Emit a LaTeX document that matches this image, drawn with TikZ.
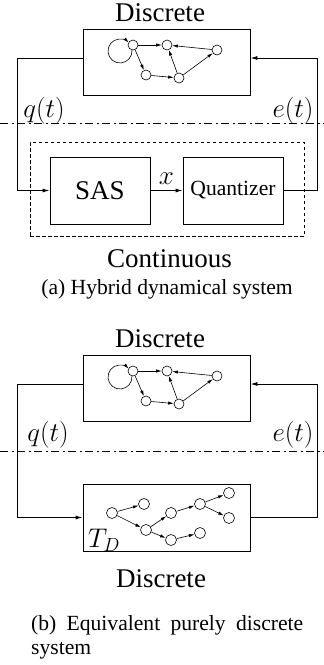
\RequirePackage{fix-cm}
\documentclass[tikz,border=0pt]{standalone}
\usepackage[no-math]{fontspec}
\setmainfont{Liberation Serif}
\usetikzlibrary{arrows.meta}
\newcommand\topgraph[1]{%
  \node[st] (#1n1) at (133,45) {};
  \node[st] (#1n2) at (167,45) {};
  \node[st] (#1n4) at (217,50) {};
  \node[st] (#1n3) at (146,75) {};
  \node[st] (#1n5) at (179,78) {};
  \coordinate (#1L) at (120,51);
  \draw[garr] (#1L) ++(5:12pt) arc[start angle=5,end angle=-316,radius=12pt];
  \draw[garr] (#1n1) -- (#1n2);
  \draw[garr] (#1n4) -- (#1n2);
  \draw[garr] (#1n1) -- (#1n3);
  \draw[garr] (#1n3) -- (#1n5);
  \draw[garr] (#1n5) -- (#1n2);
  \draw[garr] (#1n5) -- (#1n4);
}
\begin{document}
\begin{tikzpicture}[x=1pt,y=-1pt,
  box/.style={draw, line width=0.9pt, inner sep=0pt},
  st/.style={circle, draw, line width=0.6pt, minimum size=10pt, inner sep=0pt, fill=white},
  flow/.style={line width=0.9pt, -{Latex[length=7pt,width=4pt]}},
  link/.style={line width=0.9pt},
  garr/.style={line width=0.6pt, -{Latex[length=5.5pt,width=3.3pt]}},
  big/.style={font=\fontsize{27}{32}\selectfont, inner sep=0pt},
  small/.style={font=\fontsize{21.6}{24.5}\selectfont, inner sep=0pt},
  dashdot/.style={line width=0.7pt, dash pattern=on 8pt off 3.5pt on 2pt off 3.5pt},
  contbox/.style={draw, line width=0.8pt, dash pattern=on 3.5pt off 2.5pt, inner sep=0pt}
]
\useasboundingbox (0,0) rectangle (324,665);
% ---------- (a) ----------
\node[big, anchor=base] (dA) at (160,21) {Discrete};
\node[box, minimum width=167pt, minimum height=66pt] (tA) at (166.5,62) {};
\topgraph{a}
\coordinate (lA) at (17,0);
\coordinate (rA) at (317,0);
\coordinate (tAl) at ([yshift=4pt]tA.west);
\coordinate (tAr) at ([yshift=4pt]tA.east);
\node[contbox, minimum width=274pt, minimum height=94pt] (cont) at (167,189) {};
\node[box, big, minimum width=100pt, minimum height=67pt] (sas) at (100,190.5) {SAS};
\node[box, small, minimum width=100pt, minimum height=67pt] (qz) at (233,190.5) {Quantizer};
\draw[flow] (tAl) -| (lA |- sas.west) -- (sas.west);
\draw[flow] (qz.east) -| (rA |- tAr) -- (tAr);
\draw[flow] (sas) -- (qz) node[midway, big, anchor=base, yshift=6.5pt] (xl) {$x$};
\coordinate (daL) at (0,123);
\coordinate (daR) at (324,123);
\draw[dashdot] (daL) -- (daR);
\node[big, anchor=base] (qA) at (44,117.5) {$q(t)$};
\node[big, anchor=base] (eA) at (293,117.5) {$e(t)$};
\node[big, anchor=base] (cA) at (169.5,267) {Continuous};
\node[small, anchor=base] (capA) at (167,294) {(a) Hybrid dynamical system};
% ---------- (b) ----------
\node[big, anchor=base] (dB) at (160,347) {Discrete};
\node[box, minimum width=167pt, minimum height=66pt] (tB) at (166.5,388) {};
\begin{scope}[shift={(0,326)}]
\topgraph{b}
\end{scope}
\coordinate (tBl) at ([yshift=4pt]tB.west);
\coordinate (tBr) at ([yshift=4pt]tB.east);
\node[box, minimum width=167pt, minimum height=67pt] (bB) at (166.5,517.5) {};
\draw[flow] (tBl) -| (lA |- bB.west) -- (bB.west);
\draw[flow] (bB.east) -| (rA |- tBr) -- (tBr);
\coordinate (dbL) at (0,451);
\coordinate (dbR) at (324,451);
\draw[dashdot] (dbL) -- (dbR);
\node[big, anchor=base] (qB) at (48,441.5) {$q(t)$};
\node[big, anchor=base] (eB) at (293,441.5) {$e(t)$};
\begin{scope}[st/.append style={minimum size=11pt}]
\node[st] (A) at (112,513) {};
\node[st] (B) at (144,504) {};
\node[st] (C) at (146,530) {};
\node[st] (D) at (171,513) {};
\node[st] (E) at (171,540) {};
\node[st] (F) at (200,504) {};
\node[st] (G) at (200,533) {};
\node[st] (H) at (229,493) {};
\node[st] (I) at (229,518) {};
\end{scope}
\draw[garr] (A) -- (B);
\draw[garr] (A) -- (C);
\draw[garr] (C) -- (D);
\draw[garr] (C) -- (E);
\draw[garr] (D) -- (F);
\draw[garr] (E) -- (G);
\draw[garr] (F) -- (H);
\draw[garr] (F) -- (I);
\node[big, anchor=base west] (td) at (88,547) {$T_D$};
\node[big, anchor=base] (dB2) at (161,587) {Discrete};
\node[small, anchor=north west, text width=272pt, align=justify] (capB) at (31,615) {\hbadness=10000 (b) Equivalent purely discrete system};
\end{tikzpicture}
\end{document}
